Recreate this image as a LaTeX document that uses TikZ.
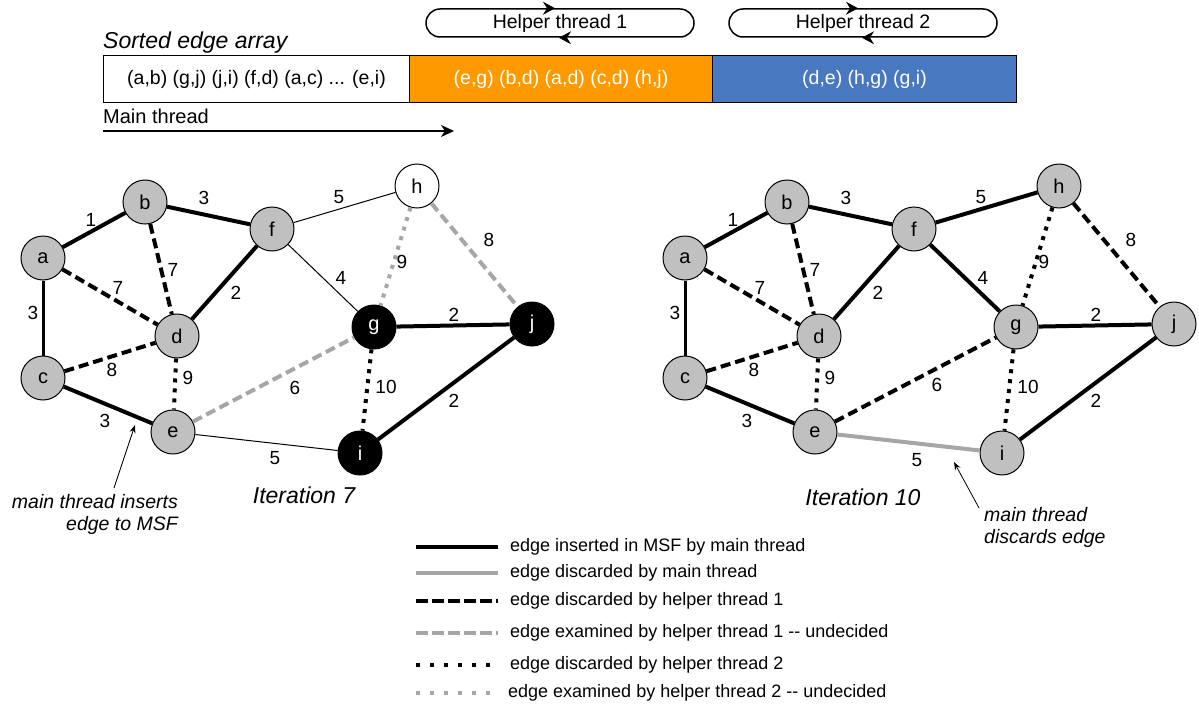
\documentclass[tikz,border=0pt]{standalone}
\usepackage{fontspec}
\setmainfont{Liberation Sans}
\usetikzlibrary{arrows.meta,shapes.misc}
\definecolor{ngray}{HTML}{C0C0C0}
\definecolor{egray}{HTML}{A6A6A6}
\definecolor{orng}{HTML}{FF9900}
\definecolor{blu}{HTML}{4878C0}
\begin{document}
\begin{tikzpicture}[x=1pt,y=-1pt,
  every node/.style={font=\fontsize{18}{21}\selectfont},
  vtx/.style={circle,draw=black,line width=1pt,fill=ngray,minimum size=44pt,inner sep=0pt,font=\fontsize{20}{23}\selectfont},
  vblack/.style={vtx,fill=black,text=white},
  vwhite/.style={vtx,fill=white},
  ins/.style={draw=black,line width=4pt},
  lite/.style={draw=black,line width=1pt},
  disc/.style={draw=egray,line width=4pt},
  hAd/.style={draw=black,line width=4pt,dash pattern=on 10pt off 5pt},
  hAu/.style={draw=egray,line width=4pt,dash pattern=on 10pt off 5pt},
  hBd/.style={draw=black,line width=4pt,dash pattern=on 4pt off 6pt},
  hBu/.style={draw=egray,line width=4pt,dash pattern=on 4pt off 6pt},
  lgA/.style={draw=black,line width=4pt,dash pattern=on 12pt off 4pt},
  lgAu/.style={draw=egray,line width=4pt,dash pattern=on 12pt off 4pt},
  lgB/.style={draw=black,line width=4pt,dash pattern=on 4pt off 10pt},
  lgBu/.style={draw=egray,line width=4pt,dash pattern=on 4pt off 10pt},
  lbl/.style={inner sep=0pt,font=\fontsize{19}{22}\selectfont},
  cell/.style={draw=black,line width=1pt,minimum height=47pt,inner sep=0pt,anchor=west,font=\fontsize{19.5}{22}\selectfont},
  loopbox/.style={draw=black,line width=1.5pt,rounded rectangle,minimum width=268pt,minimum height=28pt,inner sep=0pt,font=\fontsize{19.5}{22}\selectfont},
  tip/.style={-{Stealth[length=12pt,width=13pt,inset=4pt]},line width=1pt},
  annot/.style={-{Stealth[length=8pt,width=6pt]},line width=0.8pt},
  anntext/.style={inner sep=0pt,font=\fontsize{19.5}{22.5}\selectfont\itshape},
  ittext/.style={font=\fontsize{23}{26}\selectfont\itshape},
  legtext/.style={anchor=west,inner sep=0pt}
]
\useasboundingbox (0,0) rectangle (1199,709);

% ---- top: sorted edge array ----
\node[anchor=south west,inner sep=0pt,font=\fontsize{23}{26}\selectfont\itshape] (title) at (103,53) {Sorted edge array};
\node[cell,fill=white,minimum width=306pt] (c1) at (103,79) {(a,b) (g,j) (j,i) (f,d) (a,c) ... (e,i)};
\node[cell,fill=orng,text=white,minimum width=303pt] (c2) at (409,79) {(e,g) (b,d) (a,d) (c,d) (h,j)};
\node[cell,fill=blu,text=white,minimum width=304pt] (c3) at (712,79) {(d,e) (h,g) (g,i)};

\node[anchor=west,inner sep=0pt,font=\fontsize{20}{23}\selectfont] (mt) at (103,116) {Main thread};
\coordinate (mtA) at (103,131);
\coordinate (mtB) at (454,131);
\draw[-{Stealth[length=13pt,width=12pt,inset=4pt]},line width=1.5pt] (mtA) -- (mtB);

\node[loopbox] (h1) at (560,23) {Helper thread 1};
\node[loopbox] (h2) at (863,23) {Helper thread 2};
\draw[tip] ([xshift=-12pt]h1.north) -- ([xshift=-5pt]h1.north);
\draw[tip] ([xshift=6pt]h1.south) -- ([xshift=-1pt]h1.south);
\draw[tip] ([xshift=-12pt]h2.north) -- ([xshift=-5pt]h2.north);
\draw[tip] ([xshift=6pt]h2.south) -- ([xshift=-1pt]h2.south);

% ---- left graph (Iteration 7) ----
\node[vtx] (La) at (43,258) {a};
\node[vtx] (Lb) at (145,202) {b};
\node[vtx] (Lf) at (272,229) {f};
\node[vwhite] (Lh) at (417,186) {h};
\node[vtx] (Ld) at (177,336) {d};
\node[vtx] (Lc) at (43,378) {c};
\node[vtx] (Le) at (173,432) {e};
\node[vblack] (Lg) at (374,327) {g};
\node[vblack] (Lj) at (532,324) {j};
\node[vblack] (Li) at (360,453) {i};

\draw[ins] (La) -- (Lb);
\draw[ins] (Lb) -- (Lf);
\draw[lite] (Lf) -- (Lh);
\draw[hAu] (Lh) -- (Lj);
\draw[hBu] (Lh) -- (Lg);
\draw[lite] (Lf) -- (Lg);
\draw[hAd] (Lb) -- (Ld);
\draw[hAd] (La) -- (Ld);
\draw[ins,line width=3pt] (La) -- (Lc);
\draw[ins] (Lf) -- (Ld);
\draw[ins] (Lg) -- (Lj);
\draw[hAd] (Lc) -- (Ld);
\draw[hBd] (Ld) -- (Le);
\draw[hAu] (Le) -- (Lg);
\draw[hBd] (Lg) -- (Li);
\draw[ins] (Lj) -- (Li);
\draw[ins] (Lc) -- (Le);
\draw[lite] (Le) -- (Li);

\node[lbl] (Lw1) at (91,220) {1};
\node[lbl] (Lw2) at (204,198) {3};
\node[lbl] (Lw3) at (339,197) {5};
\node[lbl] (Lw4) at (489,240) {8};
\node[lbl] (Lw5) at (402,262) {9};
\node[lbl] (Lw6) at (341,278) {4};
\node[lbl] (Lw7) at (173,270) {7};
\node[lbl] (Lw8) at (118,288) {7};
\node[lbl] (Lw9) at (33,313) {3};
\node[lbl] (Lw10) at (236,293) {2};
\node[lbl] (Lw11) at (454,315) {2};
\node[lbl] (Lw12) at (112,370) {8};
\node[lbl] (Lw13) at (188,378) {9};
\node[lbl] (Lw14) at (295,388) {6};
\node[lbl] (Lw15) at (386,387) {10};
\node[lbl] (Lw16) at (454,401) {2};
\node[lbl] (Lw17) at (105,421) {3};
\node[lbl] (Lw18) at (275,458) {5};

\node[ittext] (Lit) at (304,495) {Iteration 7};
\node[anntext,anchor=north east,align=right] (Lann) at (178,494) {main thread inserts\\edge to MSF};
\coordinate (LannA) at (114,488);
\coordinate (LannB) at (135,425);
\draw[annot] (LannA) -- (LannB);

% ---- right graph (Iteration 10) ----
\begin{scope}[xshift=642pt]
\node[vtx] (Ra) at (43,258) {a};
\node[vtx] (Rb) at (145,202) {b};
\node[vtx] (Rf) at (272,229) {f};
\node[vtx] (Rh) at (417,186) {h};
\node[vtx] (Rd) at (177,336) {d};
\node[vtx] (Rc) at (43,378) {c};
\node[vtx] (Re) at (173,432) {e};
\node[vtx] (Rg) at (374,327) {g};
\node[vtx] (Rj) at (532,324) {j};
\node[vtx] (Ri) at (360,453) {i};

\draw[ins] (Ra) -- (Rb);
\draw[ins] (Rb) -- (Rf);
\draw[ins] (Rf) -- (Rh);
\draw[hAd] (Rh) -- (Rj);
\draw[hBd] (Rh) -- (Rg);
\draw[ins] (Rf) -- (Rg);
\draw[hAd] (Rb) -- (Rd);
\draw[hAd] (Ra) -- (Rd);
\draw[ins,line width=3pt] (Ra) -- (Rc);
\draw[ins] (Rf) -- (Rd);
\draw[ins] (Rg) -- (Rj);
\draw[hAd] (Rc) -- (Rd);
\draw[hBd] (Rd) -- (Re);
\draw[hAd] (Re) -- (Rg);
\draw[hBd] (Rg) -- (Ri);
\draw[ins] (Rj) -- (Ri);
\draw[ins] (Rc) -- (Re);
\draw[disc] (Re) -- (Ri);

\node[lbl] (Rw1) at (91,220) {1};
\node[lbl] (Rw2) at (204,198) {3};
\node[lbl] (Rw3) at (339,197) {5};
\node[lbl] (Rw4) at (489,240) {8};
\node[lbl] (Rw5) at (402,262) {9};
\node[lbl] (Rw6) at (341,278) {4};
\node[lbl] (Rw7) at (173,270) {7};
\node[lbl] (Rw8) at (118,288) {7};
\node[lbl] (Rw9) at (33,313) {3};
\node[lbl] (Rw10) at (236,293) {2};
\node[lbl] (Rw11) at (454,315) {2};
\node[lbl] (Rw12) at (112,370) {8};
\node[lbl] (Rw13) at (188,378) {9};
\node[lbl] (Rw14) at (295,385) {6};
\node[lbl] (Rw15) at (386,387) {10};
\node[lbl] (Rw16) at (454,401) {2};
\node[lbl] (Rw17) at (105,421) {3};
\node[lbl] (Rw18) at (275,460) {5};

\node[ittext] (Rit) at (221,497) {Iteration 10};
\node[anntext,anchor=north west,align=left] (Rann) at (342,507) {main thread\\discards edge};
\coordinate (RannA) at (337,508);
\coordinate (RannB) at (312,462);
\draw[annot] (RannA) -- (RannB);
\end{scope}

% ---- legend ----
\foreach \n/\y in {1/547,2/573,3/601,4/633,5/665,6/693}{
  \coordinate (lgL\n) at (416,\y);
  \coordinate (lgR\n) at (498,\y);
}
\draw[ins] (lgL1) -- (lgR1);
\draw[disc] (lgL2) -- (lgR2);
\draw[lgA] (lgL3) -- (lgR3);
\draw[lgAu] (lgL4) -- (lgR4);
\draw[lgB] (lgL5) -- (lgR5);
\draw[lgBu] (lgL6) -- (lgR6);
\node[legtext] (lt1) at (510,547) {edge inserted in MSF by main thread};
\node[legtext] (lt2) at (510,573) {edge discarded by main thread};
\node[legtext] (lt3) at (510,601) {edge discarded by helper thread 1};
\node[legtext] (lt4) at (510,633) {edge examined by helper thread 1 {-}{-} undecided};
\node[legtext] (lt5) at (510,665) {edge discarded by helper thread 2};
\node[legtext] (lt6) at (508,693) {edge examined by helper thread 2 {-}{-} undecided};
\end{tikzpicture}
\end{document}
